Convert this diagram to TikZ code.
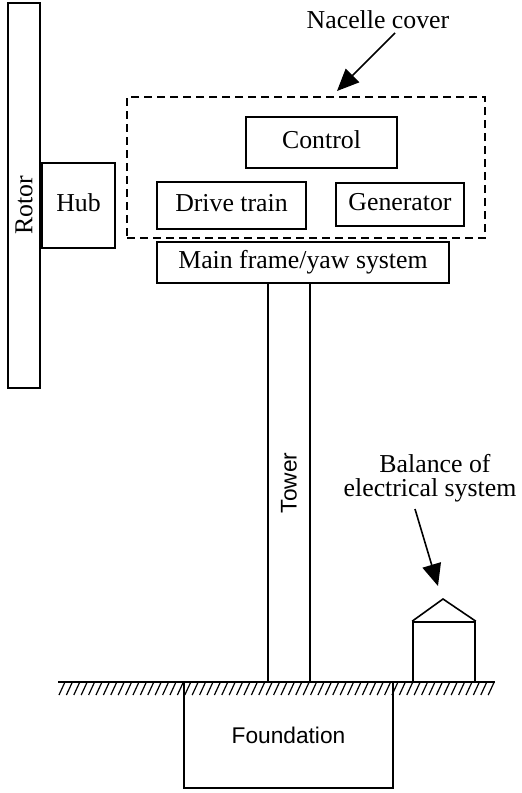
\documentclass[tikz,border=0pt]{standalone}
\usepackage{fontspec}
\setmainfont{Liberation Serif}
\setsansfont{Liberation Sans}
\usetikzlibrary{arrows.meta}
\begin{document}
\begin{tikzpicture}[x=1pt,y=-1pt,
  line width=1.6pt,
  serif/.style={font=\fontsize{25.8}{30}\selectfont},
  sans/.style={font=\sffamily\fontsize{22.7}{27}\selectfont},
  box/.style={draw, line width=1.6pt, inner sep=0pt, serif, text height=17.5pt, text depth=5.6pt},
  cover/.style={draw, line width=1.6pt, dash pattern=on 8pt off 5pt, inner sep=0pt},
  lbl/.style={serif, inner sep=0pt, anchor=base},
  pointer/.style={line width=1.6pt, -{Triangle[length=22pt,width=19pt]}},
  hatch/.style={line width=1.2pt}]
\useasboundingbox (0,0) rectangle (522,793);
% rotor and hub
\node[box, minimum width=32pt, minimum height=385pt] (rotor) at (24,195.5) {};
\node[serif, rotate=90, inner sep=0pt] (rotortxt) at (24,205) {Rotor};
\node[box, minimum width=73pt, minimum height=85pt] (hub) at (78.5,205.5) {Hub};
% nacelle
\node[cover, minimum width=358pt, minimum height=141pt] (nacelle) at (306,167.5) {};
\node[box, minimum width=151pt, minimum height=51pt] (control) at (321.5,142.5) {Control};
\node[box, minimum width=149pt, minimum height=47pt] (drive) at (231.5,205.5) {Drive train};
\node[box, minimum width=128pt, minimum height=43pt] (gen) at (400,204.5) {Generator};
\node[box, minimum width=292pt, minimum height=41pt] (frame) at (303,262.5) {Main frame/yaw system};
% tower
\node[box, minimum width=42pt, minimum height=399pt] (tower) at (289,482.5) {};
\node[sans, rotate=90, inner sep=0pt] (towertxt) at (289,483) {Tower};
% foundation
\node[box, minimum width=209pt, minimum height=106pt] (found) at (288.5,735) {};
\node[sans, inner sep=0pt] (foundtxt) at (288.5,735) {Foundation};
% balance of electrical system house
\node[box, minimum width=62pt, minimum height=60pt] (house) at (444,652) {};
\coordinate (peak) at (443,599);
\draw (house.north west) -- (peak) -- (house.north east);
% ground
\coordinate (gl) at (58,682);
\coordinate (gr) at (495,682);
\draw (gl) -- (gr);
\foreach \x in {59,66.4,...,490} {
  \draw[hatch] (\x,695) -- ++(6,-13);
}
% labels and pointers
\node[lbl] (naclbl) at (378,28) {Nacelle cover};
\coordinate (nacfrom) at (395,33);
\coordinate (nacto) at (337,91);
\draw[pointer] (nacfrom) -- (nacto);
\node[lbl] (bal1) at (435,472) {Balance of};
\node[lbl] (bal2) at (430,496) {electrical system};
\coordinate (balfrom) at (415,509);
\coordinate (balto) at (438,586);
\draw[pointer] (balfrom) -- (balto);
\end{tikzpicture}
\end{document}
